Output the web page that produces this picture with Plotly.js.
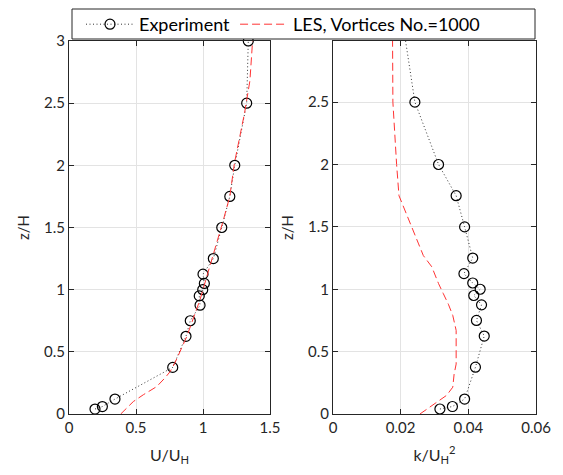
<!DOCTYPE html>
<html>
<head>
<meta charset="utf-8">
<script src="https://cdn.plot.ly/plotly-3.0.1.min.js"></script>
<style>html,body{margin:0;padding:0;background:#fff;}#chart{width:563px;height:475px;}</style>
</head>
<body>
<div id="chart"></div>
<script>
// Experiment data
var zExp = [0.04, 0.06, 0.12, 0.375, 0.625, 0.75, 0.875, 0.95, 1.0, 1.05, 1.125, 1.25, 1.5, 1.75, 2.0, 2.5, 3.0];
var uExp = [0.194, 0.249, 0.343, 0.774, 0.873, 0.905, 0.978, 0.972, 0.998, 1.01, 1.0, 1.077, 1.14, 1.2, 1.237, 1.326, 1.338];
var kExp = [0.0316, 0.0353, 0.0389, 0.0421, 0.0447, 0.0424, 0.0439, 0.0416, 0.0435, 0.0413, 0.0387, 0.0413, 0.0389, 0.0364, 0.0312, 0.0242, 0.0214];
// LES velocity profile
var zLesU = [0, 0.1, 0.155, 0.22, 0.29, 0.34, 0.41, 0.53, 0.62, 0.92, 1.1, 1.27, 1.56, 1.75, 2.02, 2.42, 2.68, 3.0];
var uLes  = [0.386, 0.48, 0.555, 0.654, 0.716, 0.754, 0.79, 0.84, 0.878, 0.978, 1.027, 1.077, 1.152, 1.2, 1.235, 1.31, 1.35, 1.37];
// LES turbulent kinetic energy profile
var zLesK = [0, 0.095, 0.15, 0.215, 0.32, 0.40, 0.67, 0.79, 0.88, 0.965, 1.045, 1.18, 1.27, 1.37, 1.47, 1.62, 1.71, 1.75, 2.0, 2.5, 3.0];
var kLes  = [0.0257, 0.0307, 0.0336, 0.0354, 0.0358, 0.0364, 0.0364, 0.0354, 0.0341, 0.0326, 0.0312, 0.0292, 0.0267, 0.0252, 0.0237, 0.0213, 0.0200, 0.0195, 0.0188, 0.0177, 0.0176];
// Labels and ticks
var seriesNames = ['Experiment', 'LES, Vortices No.=1000'];
var uTicks = [0, 0.5, 1, 1.5];
var uTickText = ['0', '0.5', '1', '1.5'];
var kTicks = [0, 0.02, 0.04, 0.06];
var kTickText = ['0', '0.02', '0.04', '0.06'];
var zTicksL = [0, 0.5, 1, 1.5, 2, 2.5, 3];
var zTicksR = [0, 0.5, 1, 1.5, 2, 2.5];

var FONT = 'Lato, "Open Sans", sans-serif';
var TXT = '#262626';
var expMarker = {symbol: 'circle-open', size: 10, color: '#000000', line: {width: 1.2, color: '#000000'}};
var expLine = {color: '#333333', width: 1, dash: '1px,2.5px'};
var lesLine = {color: '#ff3333', width: 1, dash: '8px,4px'};

var traces = [
  {x: uExp, y: zExp, xaxis: 'x', yaxis: 'y', mode: 'lines+markers', name: seriesNames[0],
   line: expLine, marker: expMarker, cliponaxis: false, showlegend: true},
  {x: uLes, y: zLesU, xaxis: 'x', yaxis: 'y', mode: 'lines', name: seriesNames[1],
   line: lesLine, showlegend: true},
  {x: kExp, y: zExp, xaxis: 'x2', yaxis: 'y2', mode: 'lines+markers', name: seriesNames[0],
   line: expLine, marker: expMarker, cliponaxis: false, showlegend: false},
  {x: kLes, y: zLesK, xaxis: 'x2', yaxis: 'y2', mode: 'lines', name: seriesNames[1],
   line: lesLine, showlegend: false}
];

function axisBase() {
  return {
    showline: true, linecolor: TXT, linewidth: 1, mirror: 'ticks',
    ticks: 'inside', ticklen: 5, tickcolor: TXT, tickwidth: 1,
    showgrid: true, gridcolor: '#e3e3e3', gridwidth: 1, zeroline: false,
    tickfont: {family: FONT, size: 15, color: TXT}
  };
}

var xa = Object.assign(axisBase(), {domain: [69/563, 270/563], range: [0, 1.5], tickvals: uTicks, ticktext: uTickText, anchor: 'y',
  title: {text: 'U/U<sub>H</sub>', font: {family: FONT, size: 16, color: TXT}, standoff: 14}});
var ya = Object.assign(axisBase(), {domain: [61/475, 434/475], range: [0, 3], tickvals: zTicksL, ticktext: zTicksL.map(String), anchor: 'x',
  title: {text: 'z/H', font: {family: FONT, size: 15, color: TXT}, standoff: 10}});
var xa2 = Object.assign(axisBase(), {domain: [333/563, 536/563], range: [0, 0.06], tickvals: kTicks, ticktext: kTickText, anchor: 'y2',
  title: {text: 'k/U<sub>H</sub><sup>2</sup>', font: {family: FONT, size: 16, color: TXT}, standoff: 14}});
var ya2 = Object.assign(axisBase(), {domain: [61/475, 434/475], range: [0, 2.99], tickvals: zTicksR, ticktext: zTicksR.map(String), anchor: 'x2',
  title: {text: 'z/H', font: {family: FONT, size: 15, color: TXT}, standoff: 10}});

var layout = {
  width: 563, height: 475,
  margin: {l: 0, r: 0, t: 0, b: 0},
  paper_bgcolor: '#ffffff', plot_bgcolor: '#ffffff',
  font: {family: FONT, size: 15, color: TXT},
  xaxis: xa, yaxis: ya, xaxis2: xa2, yaxis2: ya2,
  showlegend: true,
  legend: {
    orientation: 'h', x: 81/563, y: 1 - 6/475, xanchor: 'left', yanchor: 'top',
    bgcolor: 'rgba(0,0,0,0)', borderwidth: 0,
    font: {family: FONT, size: 18, color: '#000000'},
    itemwidth: 48, tracegroupgap: 0
  },
  shapes: [{
    type: 'rect', xref: 'paper', yref: 'paper', layer: 'above',
    x0: 72/563, x1: 535/563, y0: 1 - 39/475, y1: 1 - 9/475,
    line: {color: TXT, width: 1}, fillcolor: '#ffffff'
  }]
};

Plotly.newPlot('chart', traces, layout, {displayModeBar: false, staticPlot: true});
</script>
</body>
</html>
